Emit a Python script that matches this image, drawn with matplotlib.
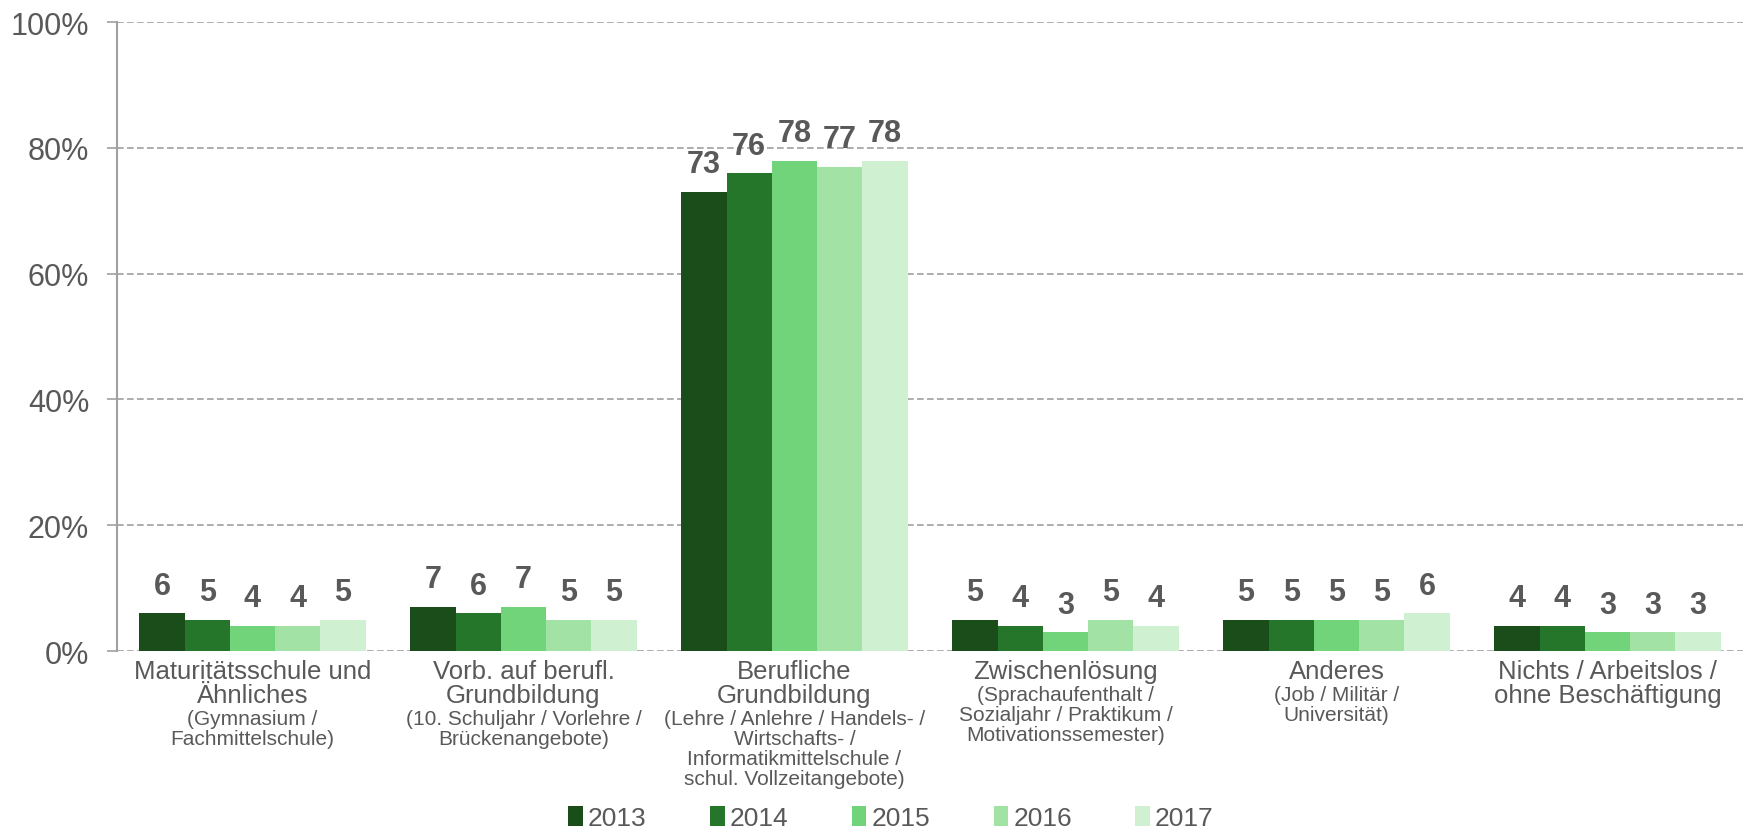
import numpy as np
import matplotlib
matplotlib.use("Agg")
import matplotlib.pyplot as plt
from matplotlib.patches import Patch

plt.rcParams['font.family'] = ['Liberation Sans', 'DejaVu Sans']

# data
main_labels = ["Maturitätsschule und\nÄhnliches", "Vorb. auf berufl.\nGrundbildung",
               "Berufliche\nGrundbildung", "Zwischenlösung", "Anderes",
               "Nichts / Arbeitslos /\nohne Beschäftigung"]
sub_labels = ["(Gymnasium /\nFachmittelschule)",
              "(10. Schuljahr / Vorlehre /\nBrückenangebote)",
              "(Lehre / Anlehre / Handels- /\nWirtschafts- /\nInformatikmittelschule /\nschul. Vollzeitangebote)",
              "(Sprachaufenthalt /\nSozialjahr / Praktikum /\nMotivationssemester)",
              "(Job / Militär /\nUniversität)",
              ""]
years = ["2013", "2014", "2015", "2016", "2017"]
v2013 = [6, 7, 73, 5, 5, 4]
v2014 = [5, 6, 76, 4, 5, 4]
v2015 = [4, 7, 78, 3, 5, 3]
v2016 = [4, 5, 77, 5, 5, 3]
v2017 = [5, 5, 78, 4, 6, 3]
series = [v2013, v2014, v2015, v2016, v2017]
colors = ["#1A4D1A", "#25762A", "#72D47A", "#A2E3A5", "#D0F0D2"]

txt = "#595959"
grid_c = "#A0A0A0"

fig = plt.figure(figsize=(17.54, 8.29), dpi=100)
ax = fig.add_axes([0.0667, 0.2135, 0.927, 0.7585])

x = np.arange(len(main_labels))
w = 0.167
for i, (vals, c) in enumerate(zip(series, colors)):
    pos = x + (i - 2) * w
    bars = ax.bar(pos, vals, width=w, color=c, zorder=3)
    for b, v in zip(bars, vals):
        ax.annotate(str(v), (b.get_x() + b.get_width() / 2, v),
                    xytext=(0, 9), textcoords="offset points",
                    ha="center", va="bottom", fontsize=22, fontweight="bold",
                    color=txt, zorder=4)

ax.set_xlim(-0.5, len(main_labels) - 0.5)
ax.set_ylim(0, 100)
ax.set_yticks(range(0, 101, 20))
ax.set_yticklabels([f"{t}%" for t in range(0, 101, 20)], fontsize=22, color=txt)
ax.yaxis.grid(True, linestyle=(0, (4, 2)), color=grid_c, linewidth=1.2, zorder=0)
ax.set_xticks([])
ax.tick_params(axis="y", length=7, color=grid_c, width=1.2, pad=13)
for s in ["top", "right", "bottom"]:
    ax.spines[s].set_visible(False)
ax.spines["left"].set_color(grid_c)
ax.spines["left"].set_linewidth(1.5)

# category labels
for xi, m, s in zip(x, main_labels, sub_labels):
    ax.annotate(m, (xi, 0), xycoords=("data", "axes fraction"),
                xytext=(0, -6), textcoords="offset points",
                ha="center", va="top", fontsize=18.5, color=txt, linespacing=1.0)
    if s:
        nl = m.count("\n") + 1
        ax.annotate(s, (xi, 0), xycoords=("data", "axes fraction"),
                    xytext=(0, -7.5 - 17 * nl), textcoords="offset points",
                    ha="center", va="top", fontsize=15, color=txt, linespacing=1.07)

handles = [Patch(facecolor=c, label=y) for c, y in zip(colors, years)]
fig.legend(handles=handles, loc="lower center", bbox_to_anchor=(0.508, -0.031),
           ncol=5, frameon=False, fontsize=19, handlelength=0.55, handleheight=0.8,
           handletextpad=0.2, columnspacing=2.4, labelcolor=txt)

fig.savefig("out.png", dpi=100)
